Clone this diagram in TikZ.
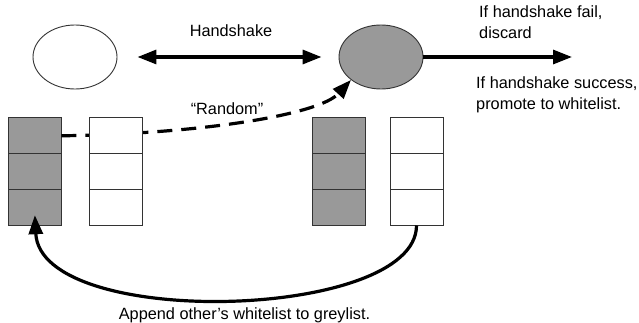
\documentclass[tikz,border=0pt]{standalone}
\usepackage{fontspec}
\setmainfont{Liberation Sans}
\usetikzlibrary{shapes.geometric, arrows.meta, positioning, calc}
\definecolor{cellgrey}{HTML}{999999}
\definecolor{edgegrey}{HTML}{333333}

\begin{document}
\begin{tikzpicture}[
  x=1pt, y=-1pt,
  peer/.style={ellipse, draw=edgegrey, line width=0.9pt, minimum width=84pt, minimum height=64pt, inner sep=0pt},
  cell/.style={rectangle, draw=edgegrey, line width=0.9pt, minimum width=53pt, minimum height=35.7pt, inner sep=0pt},
  lbl/.style={font=\fontsize{16.3}{21}\selectfont, inner sep=0pt},
  arrow/.style={-{Triangle[length=19pt, width=14pt]}, line width=3.2pt},
]
\useasboundingbox (0,0) rectangle (639,323);

\node[peer] (me) at (75,57) {};
\node[peer, fill=cellgrey] (other) at (381,57) {};
\coordinate (out) at (572,57);

% greylists
\node[cell, fill=cellgrey] (mygrey1) at (34.5,135.8) {};
\node[cell, fill=cellgrey] (mygrey2) at (34.5,171.5) {};
\node[cell, fill=cellgrey] (mygrey3) at (34.5,207.2) {};
\node[cell, fill=cellgrey] (othergrey1) at (338.5,135.8) {};
\node[cell, fill=cellgrey] (othergrey2) at (338.5,171.5) {};
\node[cell, fill=cellgrey] (othergrey3) at (338.5,207.2) {};

% random pick, runs behind the whitelist
\draw[arrow, dash pattern=on 15pt off 9pt] (mygrey1.east) .. controls +(139,-2) and +(-32,35) .. (other.south west);

% whitelists
\node[cell, fill=white] (mywhite1) at (115.5,135.8) {};
\node[cell, fill=white] (mywhite2) at (115.5,171.5) {};
\node[cell, fill=white] (mywhite3) at (115.5,207.2) {};
\node[cell, fill=white] (otherwhite1) at (416.5,135.8) {};
\node[cell, fill=white] (otherwhite2) at (416.5,171.5) {};
\node[cell, fill=white] (otherwhite3) at (416.5,207.2) {};

\draw[arrow, {Triangle[length=19pt, width=14pt]}-{Triangle[length=19pt, width=14pt]}, shorten <=20pt, shorten >=17pt] (me) -- (other);
\draw[arrow] (other) -- (out);
\draw[arrow, shorten >=8pt] (otherwhite3.south) .. controls +(0,95) and +(6,123) .. (mygrey3.center);

\node[lbl, anchor=base] (hslbl) at (231,37) {Handshake};
\node[lbl, anchor=base] (rndlbl) at (227,115) {“Random”};
\node[lbl, anchor=north west, align=left] (faillbl) at (479,5.5) {If handshake fail,\\discard};
\node[lbl, anchor=north west, align=left] (oklbl) at (476,76.5) {If handshake success,\\promote to whitelist.};
\node[lbl, anchor=base] (applbl) at (244.5,319.3) {Append other’s whitelist to greylist.};

\end{tikzpicture}
\end{document}
